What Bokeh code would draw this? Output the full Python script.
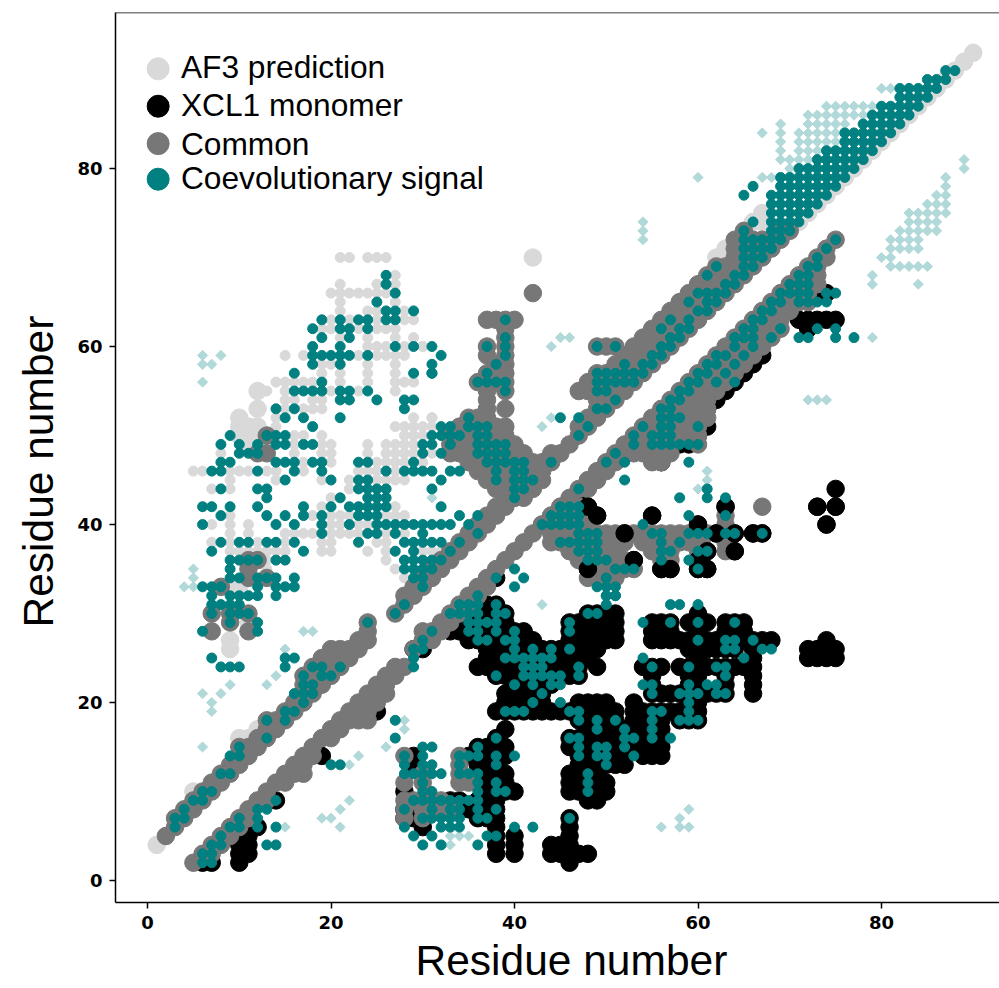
from math import pi
from bokeh.embed import file_html
from bokeh.resources import INLINE
from bokeh.plotting import figure
from bokeh.models import Label, Span, FixedTicker, Title

LEGEND_LABELS = ["AF3 prediction", "XCL1 monomer", "Common", "Coevolutionary signal"]
X_TICKS = [0, 20, 40, 60, 80]
Y_TICKS = [0, 20, 40, 60, 80]

# rows: (residue y, [residues x])
af3_large = [(4,[1]),(70,[42]),(55,[12]),(53,[12]),(52,[10]),(51,[10,11,12]),(50,[10,11,12]),(49,[11,12]),
    (33,[10]),(29,[11]),(27,[9]),(26,[9]),(10,[5]),(17,[12]),(16,[10,11]),(23,[17]),(14,[10]),(71,[63,64]),(70,[62,63]),
    (74,[66,67]),(75,[67]),(74,[71]),(75,[72]),(76,[73]),(77,[74]),(78,[75]),(79,[76]),(80,[77]),(81,[78]),(82,[79]),
    (83,[80]),(84,[81]),(85,[82]),(86,[83]),(87,[84]),(88,[85]),(89,[86]),(90,[87]),(91,[88]),(92,[89]),(93,[90])]
af3_small = [(70,[21,22,24,25,26]),(68,[27]),(67,[21,25,27]),(66,[20,21,22,23,24,25,26]),(65,[21,27]),
    (64,[21,24,25,28]),(63,[20,22,25,28,29]),(62,[19,20,23,25,26,27]),(61,[21,24,27,29]),(60,[24,25,26,28,30]),
    (59,[15,17,23,25,26,27,28]),(58,[19,20,24,27]),(57,[19,21,24,27]),(56,[14,15,16,17,18,21,24,27,28,29]),
    (55,[13,15,18,20,23,27]),(54,[15,16,18,19]),(53,[15,17,18,19]),(52,[14,29,31]),(51,[14,27,28,29,30,31]),
    (50,[16,17,19,28,29,30]),(49,[16,19,20,24,26,27,28,29]),(48,[8,16,19,20,24,26,27,28,29,31]),
    (47,[17,20,25,26,27,28,30]),(46,[5,6,9,10,11,13,14,17,23,24,25,27]),(45,[9,14,19,22,24,25,26,27,28]),
    (44,[7,9,22,26]),(43,[20,26]),(42,[19,27]),(41,[9,18,20,21,22,26,27,28]),(40,[7,9,11,20,21,23,24]),
    (39,[9,11,15,16,17,18,20,21,22,23,26,28]),(38,[7,9,12,15,19,20,25,26]),(37,[9,10,11,12,13,14,15,19,20,24,26,30,31,32]),
    (36,[10,11,13,14,26]),(35,[27,13]),(34,[28,13]),(60,[30]),(52,[31])]

# columns: (residue x, [residues y])
common_upper = [(2,[5]),(3,[6,7]),(4,[7,8]),(5,[8,9]),(6,[9,10]),(7,[10,11]),(8,[11,12]),(9,[12,13]),(10,[13,14,15]),
    (11,[14,15]),(12,[15,16]),(13,[16,17,18]),(14,[17,18]),(15,[18,19]),(16,[19,20]),(17,[20,21,22,23]),
    (18,[21,22,23,24]),(19,[22,23,24,25]),(20,[23,24,25,26]),(21,[24,25,26]),(22,[25,26]),(23,[26,27]),(24,[27,28,29]),
    (27,[30]),(28,[31,32]),(29,[32,33]),(30,[33,34]),(31,[34,35]),(32,[35,36]),(33,[36,37]),(34,[37,38]),(35,[38,39]),
    (36,[39,40]),(37,[40,41]),(38,[41,42]),(39,[42,43]),(40,[43,44]),(41,[44]),(42,[45,46]),(43,[46,47]),(44,[47,48]),
    (45,[48]),(46,[49]),(47,[50,51,55]),(48,[51,52,55,56]),(49,[52,53,54,55,56,57,60]),(50,[53,54,55,56,57,60]),
    (51,[54,55,56,57,58,60]),(52,[55,56,57,58,59]),(53,[56,57,58,59,60]),(54,[57,58,59,60,61]),(55,[58,59,60,61,62]),
    (56,[59,60,61,62,63]),(57,[60,61,62,63,64]),(58,[61,62,63,64,65]),(59,[62,63,64,65,66]),(60,[63,64,65,66,67]),
    (61,[64,65,66,67,68]),(62,[65,66,67,68,69]),(63,[66,67,68,69]),(64,[67,68,69,70,71,72]),(65,[68,69,70,71,72,73]),
    (66,[69,70,71,72]),(67,[70,71,72]),(68,[71,72]),(69,[72,73]),(70,[73])]
common_lower = [(5,[2]),(6,[3]),(7,[4,3]),(8,[5,4]),(9,[6,5]),(10,[7,6]),(11,[8,7]),(12,[9]),(13,[10,9]),(14,[11]),
    (15,[12,11]),(16,[13,12]),(17,[14,13,12]),(18,[15,14]),(19,[16]),(20,[17,16]),(21,[18,17]),(22,[19,18]),(23,[20,19,18]),
    (24,[21,20,19,18]),(25,[22,21,20]),(26,[23,22,21]),(27,[24,23]),(28,[24]),(29,[26]),(30,[27,28]),(31,[28,27]),
    (32,[29,28]),(33,[30,29]),(34,[31,30]),(35,[32,31]),(36,[33,32]),(37,[34,33]),(38,[35]),(39,[36]),(40,[37]),(41,[38]),
    (42,[39]),(43,[40]),(44,[41]),(45,[42]),(46,[43]),(47,[44]),(48,[45,44]),(49,[46,45]),(50,[47,46]),(51,[48,47]),
    (52,[49,48]),(53,[50,49,48]),(54,[51,50,49,48]),(55,[52,51,50,49,48,47]),(56,[53,52,51,50,49,48,47]),
    (57,[54,53,52,51,50,49,48]),(58,[55,54,53,52,51,50]),(59,[56,55,54,53,52,51,50]),(60,[57,56,55,54,53,52,51,50,49]),
    (61,[58,57,56,55,54,53,52]),(62,[59,58,57,56,55]),(63,[60,59,58,57,56]),(64,[61,60,59,58,57]),(65,[62,61,60,59,58]),
    (66,[63,62,61,60,59]),(67,[64,63,62,61,60]),(68,[65,64,63,62,61]),(69,[66,65,64,63,62]),(70,[67,66,65,64]),
    (71,[68,67,66,65]),(72,[69,68,67,66,65]),(73,[70,69,68,67]),(74,[71,70]),(75,[72])]
# rows: (residue y, [residues x])
common_blobs = [(66,[42]),(63,[37,38,39,40]),(62,[39]),(61,[39]),(60,[37,39]),(59,[37,39]),(58,[38,39]),(57,[37,39]),
    (56,[36,37,38,39]),(55,[37,39]),(54,[37]),(53,[37,39]),(52,[35,36,37]),(51,[34,35,36,37,38,39]),(50,[33,34,36,37,38,39]),
    (49,[33,34,35,36,37,38,39,40]),(48,[33,34,36,37,38,39,40,41]),(47,[35,36,37,38,39,40,41,42]),
    (46,[36,37,38,39,40,41,42,43]),(45,[37,38,39,40,41,42,43]),(44,[38,39,40,41,42]),(43,[39,40,41]),
    (42,[45,46,47,67]),(41,[44,45,46,47,63]),(40,[43,44,45,46,47,48,63]),(39,[44,45,46,47,48,49,50,51,53,54,55,56,57,58,59,60,61]),
    (38,[44,45,46,47,48,49,50,51,52,54,55,56,57,58,59,60,63]),(37,[46,47,48,49,50,51,55,56,57,60,61,63]),
    (36,[47,48,49,50,51,52,56,57]),(35,[49,50,51,52,53]),(34,[48,49,50,51]),
    (50,[13]),(48,[12,13]),(36,[11,12]),(35,[11]),(34,[11,13]),(33,[8]),(30,[7,9,11]),(29,[9]),(28,[7,11]),
    (14,[28,34]),(13,[34]),(12,[30,34]),(11,[28,30,34,35]),(9,[28,29,30,31,32]),(8,[28,30,31,32,33]),(7,[28,30])]

xcl1 = [(44,[75]),(42,[63,73,75]),(41,[55]),(40,[60,74]),(39,[52,62,64,66,67]),(37,[61,64]),(36,[53,60]),(35,[48,56,57,60,61]),
    (34,[38]),(63,[71,72,73,74,75]),(66,[73,74]),(62,[72]),(59,[67]),(58,[66]),(57,[65]),(56,[64]),(55,[63]),(54,[62]),(53,[61]),
    (52,[60]),(51,[60,61]),(50,[60,59]),(49,[58,59]),(47,[56]),(43,[47]),(42,[48]),(41,[49]),(26,[29,30]),
    (32,[36]),(31,[35,36,37,38]),(30,[34,35,36,37,38,39,48,49,50,51,60]),(29,[33,34,35,36,37,38,39,46,47,48,49,50,51,55,56,57,59,60,61,63,64,65]),
    (28,[33,34,35,36,37,38,39,40,41,46,47,48,49,50,51,55,56,57,60,63,64,65]),
    (27,[35,36,37,38,39,40,41,42,46,47,48,49,50,51,55,56,57,58,59,60,61,62,63,64,65,66,67,68]),
    (26,[37,38,39,40,41,42,43,44,45,46,47,48,49,59,60,61,62,63,64,66,72,73,74,75]),(25,[37,38,39,40,41,42,43,44,45,46,47,48,60,66,72,73,74,75]),
    (27,[74]),(24,[36,37,38,39,40,41,42,43,44,45,46,47,49,54,55,56,58,59,60,61,62,63,64,65,66]),
    (23,[38,39,40,41,42,43,44,45,46,47,55,59,60,63,66]),(22,[40,41,42,43,44,55,59,60,63,66]),
    (21,[39,40,41,42,43,55,56,57,58,59,60,61,62,63,66]),(20,[39,40,41,42,43,47,48,49,50,53,59,60]),
    (19,[38,39,40,41,42,43,44,45,46,47,48,49,50,51,53,54,55,56,57,58,59,60]),(18,[47,48,49,50,51,53,54,55,56,58,59,60]),
    (17,[39,48,49,50,51,52,53,54,55,56]),(16,[38,46,47,48,49,50,51,52,53,54,55,56]),(15,[36,37,38,39,46,47,48,49,50,51,52,53,54,55,56]),
    (14,[29,35,36,37,38,39,47,48,49,50,51,52,54,55,56]),(13,[29,36,37,38,47,48,50,51,52]),(12,[36,37,38,39,46,47,49]),
    (11,[37,38,39,46,47,48,49,50]),(10,[28,37,38,39,40,46,47,48,49,50]),(9,[33,34,36,37,38,48,49]),
    (8,[28,29,30,35,36,37,38]),(7,[28,29,36,37,38,46]),(6,[30,38,46,12,11]),(5,[38,40,46,10,11]),(4,[38,40,44,45,46,10,11]),
    (3,[38,40,44,45,46,47,48,10,11]),(2,[46,6,7,10]),(9,[13,14]),(14,[19]),(19,[25])]

coev_upper_left = [(68,[26]),(67,[26]),(66,[27]),(65,[25]),(64,[26,27,29]),(63,[19,21,23,24,26,27]),(62,[18,21,22,24]),
    (61,[19,22]),(60,[18,21,27,29,31]),(59,[18,19,20,21,22,24,32]),(58,[18,21,31]),(57,[16,29,31]),(56,[19]),
    (55,[16,17,18,19,21,22,24]),(54,[21,22,25,28,29]),(53,[14,16,28]),(52,[15,17,21]),(51,[18,32,33,35]),
    (50,[9,13,14,15,31,32,33,34]),(49,[8,10,12,14,15,17,18,30,31,33]),(48,[10,11,12,30,32]),
    (47,[8,9,14,15,16,18,19,23,24,29]),(46,[7,8,12,16,19,26,28,29,30,31,33,34]),(45,[15,20,23,24,32]),
    (44,[8,12,13,23,24,25,26,31]),(43,[13,21,24,25,26]),(42,[6,7,9,12,17,20,22,23,24,25,26,32]),
    (41,[8,13,15,17,19,23,24,25,34,36]),(40,[6,14,16,19,22,25,26,27,28,29,30,31,32,33,35]),(39,[19,24,25,27,30,36]),
    (38,[8,10,11,13,14,16,23,28,29,30,31,32,34]),(37,[7,17,27,29,33]),(36,[9,10,11,12,14,15,28,29,30,31,32]),
    (35,[9,28,29,30,31]),(34,[9,10,12,13,14,16,29,30]),(33,[6,7,8,12,14,15,16,30]),(32,[7,9,10,11,12,14]),
    (31,[7,8,9,10,28]),(30,[7,9,10,11,27]),(29,[9,12,24]),(28,[6,12]),(25,[7]),(24,[8,9,10])]
coev_upper_band = [(6,[3]),(7,[3,4]),(8,[4]),(9,[5,6]),(10,[6,7]),(12,[8,9]),(14,[9,10]),(15,[10]),(16,[13]),(18,[13,15]),
    (19,[15,16]),(20,[17]),(21,[16,17,18]),(22,[17,18]),(23,[17,19,20]),(24,[18,19,21]),(25,[15,16]),(24,[15]),
    (63,[39,57,59]),(61,[39,57,58,64,65]),(60,[37,39,49,51,56,57,64,66]),(59,[39,55,56,62,63,65]),(58,[38,52,54,55,61,62,64]),
    (57,[37,49,50,51,52,53,54,31,60,61,63]),(56,[36,37,38,39,49,50,51,52,53,59,60,62,64]),(55,[39,49,50,58,59]),(54,[51,57,58]),
    (53,[49,50,56,57]),(52,[35,45,47,56,57,58]),(51,[35,36,37,48,54,56,57,60]),(50,[36,37,47,53,55,56,57]),
    (49,[36,37,38,39,53,55,56,57,58,59,60]),(48,[36,37,38,39,51]),(47,[37,38,39,40,41,44,50,52,59]),(46,[38,40,41]),
    (45,[38,40,41,42,52]),(44,[40,41,47,61]),(43,[40,58,61,63]),(42,[45,46,47]),(41,[44,45,46,47,59,63]),
    (40,[43,44,45,46,47,54]),(39,[47,48,49,55,56,59,60,61,63,64,67]),(38,[45,46,47,48,49,56,58]),(37,[47,48,49,56,57,60,61]),
    (36,[48,49,50,56,59]),(35,[40,51,52,53,60]),(34,[38,41,50]),(33,[40,49,50,51]),(32,[50,51]),(31,[50])]
coev_top_right = [(91,[87,88]),(90,[85,86,87]),(89,[82,83,84,85,86]),(88,[82,83,84,85]),(87,[80,81,82,83,84]),(86,[79,80,81,82,83]),
    (85,[78,79,80,81,82]),(84,[76,77,78,79,80,81]),(83,[76,77,78,79,80]),(82,[74,75,76,77,78,79]),(81,[73,74,75,76,77,78]),
    (80,[71,72,73,74,75,76,77]),(79,[69,70,71,72,73,74,75,76]),(78,[66,69,70,71,72,73,74,75]),(77,[65,68,69,70,71,72,73,74]),
    (76,[68,69,70,71,72,73]),(75,[68,69,70,71,72]),(74,[66,68,69,70,71]),(73,[65,68,69,70]),(72,[65,66,67,68,69,75]),
    (71,[65,66,67,68,74]),(70,[65,66,67,73]),(69,[62,65,66,72,73]),(68,[61,64,65,71,72]),(67,[63,64,70,71,72]),
    (66,[60,61,62,63,69,70,71,72,74,75]),(65,[59,61,62,68,69,71,72,73,74]),(64,[60,61,67,68]),(63,[66,67]),
    (62,[56,58,59,65,66,69,73,75]),(61,[64,65,66,68,71,72,75,77])]
coev_lower = [(32,[36,50,51]),(31,[34,35,36,38,57,58,60]),(30,[33,34,35,36,38,39,48,49]),(29,[35,36,37,38,46,54,57,60,64]),
    (28,[31,35,36,38,40,46]),(27,[30,36,37,39,40,60,63,64,66]),(26,[29,30,40,42,44,46,63,64,67,68]),
    (25,[29,39,40,41,42,43,44,54,65]),(24,[29,41,42,43,47,55,59,62,63]),(23,[38,41,42,43,44,45,47,63]),
    (22,[40,42,44,45,54,55,59,61,62]),(21,[43,55,58,59,60,62,63]),(20,[42,45,59]),(19,[39,40,41,46,47,55,56,59]),
    (18,[27,47,49,51,55,58,59,60]),(17,[49,52,55]),(16,[27,38,46,47,52,53,55,57]),(15,[30,31,36,47,49,50,52]),
    (14,[28,30,34,35,36,38,40,47,49,50,53]),(13,[21,20,28,30,31,34,38,50]),(12,[28,29,30,31,32,34,35,36,48]),
    (11,[30,36,38,48]),(10,[30,31,36,38,39,48]),(9,[29,30,31,32,33,34,35,36,14]),(8,[28,31,33,34,36,38,12,13]),
    (7,[30,31,32,33,34,36,37,46,10,12]),(6,[28,32,33,34,40,42,9,10,12,14]),(5,[29,31,37,38,8]),(4,[30,32,36,13,14,7,8]),
    (3,[6,7]),(2,[6,7])]

diamond_rows = [(89,[80,81]),(87,[74,75,76,77,78,79]),(86,[72,73,74,75,76,77,78]),(85,[69,72,73,74,75,76]),(84,[67,69,71,72,73,74,75]),
    (83,[69,71,72,73,74,75]),(82,[69,71,72,73]),(81,[69,70,71,72,89]),(80,[70,89]),(79,[60,67,68,87]),(78,[87]),(77,[86,87]),
    (76,[85,86,87]),(75,[83,84,85,86,87]),(74,[54,83,84,85,86]),(73,[54,82,83,84,85,86]),(72,[54,81,82,83,84]),(71,[81,82,83,84]),
    (70,[80,81]),(69,[81,82,83,84,85]),(68,[79]),(67,[79,84]),(61,[45,46,79]),(60,[44]),(59,[6,8]),(58,[6,7]),(56,[6]),(54,[72,73,74]),
    (52,[44]),(51,[43]),(46,[61]),(45,[61]),(44,[60]),(43,[31]),(35,[5]),(34,[5]),(33,[4,5]),(31,[43]),(28,[17,18]),(26,[15]),
    (23,[14]),(22,[9,13]),(21,[6,8]),(20,[7]),(19,[7]),(18,[28]),(17,[28]),(15,[6,26]),(14,[23]),(13,[22]),(9,[22]),(8,[21,59]),
    (7,[19,20,58]),(6,[15,21,56,58,59]),(5,[33,34,35]),(4,[33])]


def rows(table):
    xs, ys = [], []
    for y, row in table:
        for x in row:
            xs.append(x)
            ys.append(y)
    return xs, ys


def columns(table):
    ys, xs = rows(table)
    return xs, ys


XMIN, XMAX, YMIN, YMAX = -3.49, 92.86, -2.47, 97.53
BIG, SMALL = 17.5, 10
LIGHT, BLACK, GREY, TEAL, PALE = "#d9d9d9", "#000000", "#777777", "#008080", "#b2d9d9"

p = figure(width=999, height=988, output_backend="svg", toolbar_location=None,
           x_range=(XMIN, XMAX), y_range=(YMIN, YMAX),
           min_border_left=115, min_border_right=0, min_border_top=12, min_border_bottom=86)
p.grid.visible = False
p.outline_line_color = None
p.background_fill_color = "white"

x, y = rows(af3_large)
p.scatter(x, y, size=BIG, color=LIGHT)
x, y = rows(af3_small)
p.scatter(x, y, size=SMALL, color=LIGHT)
x, y = rows(diamond_rows)
p.scatter(x, y, size=7.2, marker="square", angle=pi / 4, color=PALE)
x, y = rows(xcl1)
p.scatter(x, y, size=BIG, color=BLACK)
for table in (common_upper, common_lower):
    x, y = columns(table)
    p.scatter(x, y, size=BIG, color=GREY)
x, y = rows(common_blobs)
p.scatter(x, y, size=BIG, color=GREY)
x, y = rows([r for r in xcl1 if r[0] in (39, 40, 41, 42, 36, 35, 37)])
p.scatter(x, y, size=BIG, color=BLACK)
for table in (coev_upper_left, coev_upper_band, coev_top_right, coev_lower):
    x, y = rows(table)
    p.scatter(x, y, size=SMALL, color=TEAL)

for ax in (p.xaxis[0], p.yaxis[0]):
    ax.major_label_text_font = "DejaVu Sans"
    ax.major_label_text_font_style = "bold"
    ax.major_label_text_font_size = "18px"
    ax.major_label_text_color = "black"
    ax.axis_line_color = "black"
    ax.axis_line_width = 1.5
    ax.major_tick_line_color = "black"
    ax.major_tick_line_width = 1.5
    ax.major_tick_out = 6
    ax.major_tick_in = 0
    ax.minor_tick_line_color = None
p.xaxis[0].major_label_standoff = 7
p.yaxis[0].major_label_standoff = 7
p.xaxis[0].ticker = FixedTicker(ticks=X_TICKS)
p.yaxis[0].ticker = FixedTicker(ticks=Y_TICKS)
p.add_layout(Span(location=YMAX, dimension="width", line_color="black", line_width=1.5))

# axis titles
p.add_layout(Title(text="Residue number", align="left", offset=300, standoff=7, text_font="Liberation Sans",
                   text_font_size="42.5px", text_font_style="normal", text_color="black", text_baseline="middle"), "below")
p.add_layout(Title(text="Residue number", align="left", offset=275, standoff=25, text_font="Liberation Sans",
                   text_font_size="42.5px", text_font_style="normal", text_color="black"), "left")

# legend
LEGEND_Y = [91.2, 87.0, 82.8, 78.8]
LEGEND_TEXT_Y = [91.45, 87.15, 82.75, 78.95]
LEGEND_COLORS = [LIGHT, BLACK, GREY, TEAL]
p.scatter([1.16] * 4, LEGEND_Y, size=22, color=LEGEND_COLORS)
for label, ly in zip(LEGEND_LABELS, LEGEND_TEXT_Y):
    p.add_layout(Label(x=3.64, y=ly, text=label, text_font="Liberation Sans", text_font_size="31.7px",
                       text_baseline="middle", text_color="black"))

open("out.html", "w").write(file_html(p, INLINE))
